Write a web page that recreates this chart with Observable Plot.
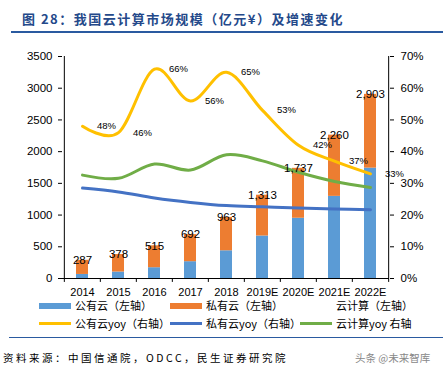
<!DOCTYPE html>
<html><head><meta charset="utf-8">
<script src="https://cdn.jsdelivr.net/npm/d3@7"></script>
<script src="https://cdn.jsdelivr.net/npm/@observablehq/plot@0.6"></script>
<style>
body{margin:0;width:448px;height:375px;position:relative;background:#fff;font-family:"Noto Sans CJK SC",sans-serif;overflow:hidden}
.abs{position:absolute;white-space:nowrap}
#title{left:22px;top:11px;font-size:13px;line-height:16px;font-weight:bold;color:#24498a;letter-spacing:1.5px}
#rule1{left:11px;top:31px;width:432px;height:2px;background:#2a5aa0}
#chart{left:0;top:40px;width:448px;height:260px}
#chart svg{position:absolute;left:0;top:0;overflow:visible}
.lg{font-size:11px;line-height:12px;color:#000}
.sw{position:absolute}
#rule2{left:9px;top:337px;width:434px;height:1px;background:#2a5aa0}
#src{left:3px;top:351px;font-size:10.5px;line-height:14px;letter-spacing:2.5px;color:#000}
#wm{left:355px;top:351px;font-size:10.5px;line-height:14px;color:#888}
</style></head>
<body>
<div id="title" class="abs">图 28：我国云计算市场规模（亿元¥）及增速变化</div>
<div id="rule1" class="abs"></div>
<div id="chart" class="abs"></div>
<div id="legend"></div>
<div id="rule2" class="abs"></div>
<div id="src" class="abs">资料来源：中国信通院，ODCC，民生证券研究院</div>
<div id="wm" class="abs">头条 @未来智库</div>
<script>
const years = ["2014","2015","2016","2017","2018","2019E","2020E","2021E","2022E"];
const publicCloud = [64,102,170,265,437,670,950,1295,1740];
const privateCloud = [223,276,345,427,526,643,787,965,1163];
const totalCloud = [287,378,515,692,963,1313,1737,2260,2903];
const publicYoy = [48,46,66,56,65,53,42,37,33];
const privateYoy = [28.5,27.3,25.4,24,23,22.6,22.2,21.9,21.7];
const totalYoy = [32.6,31.6,36.1,34.2,39,37.1,33.5,30.6,28.7];
const leftTicks = [0,500,1000,1500,2000,2500,3000,3500];
const rightTicks = [0,10,20,30,40,50,60,70];
const seriesNames = ["公有云","私有云"];
const lineNames = ["公有云yoy","私有云yoy","云计算yoy"];
const barColors = ["#5B9BD5","#ED7D31"];
const lineColors = ["#FFC000","#4472C4","#70AD47"];

const W=448,H=260,mL=62,mR=59,mT=16,mB=22;
const half = (W-mL-mR)/years.length/2;
const font = "'Liberation Sans', Arial, sans-serif";

const barRows = [];
years.forEach((y,i)=>{
  barRows.push({year:y, series:seriesNames[0], value:publicCloud[i]});
  barRows.push({year:y, series:seriesNames[1], value:privateCloud[i]});
});
const lineRows = [];
[publicYoy,privateYoy,totalYoy].forEach((arr,k)=>{
  years.forEach((y,i)=>lineRows.push({year:y, series:lineNames[k], value:arr[i]}));
});
const pubRows = years.map((y,i)=>({year:y, value:publicYoy[i]}));
const totRows = years.map((y,i)=>({year:y, value:totalCloud[i]}));
const curve = d3.curveCatmullRom.alpha(0);

const bars = Plot.plot({
  width:W, height:H, marginLeft:mL, marginRight:mR, marginTop:mT, marginBottom:mB,
  style:{fontFamily:font, fontSize:"11.5px", color:"#000", background:"transparent", overflow:"visible"},
  x:{type:"band", domain:years, padding:0, tickSize:0, tickPadding:10, label:null, fontSize:11},
  y:{domain:[0,3500], ticks:leftTicks, tickSize:4, tickPadding:6, label:null, tickFormat:d=>String(d)},
  color:{domain:seriesNames, range:barColors},
  marks:[
    Plot.barY(barRows,{x:"year", y:"value", fill:"series", insetLeft:12, insetRight:12}),
    Plot.ruleY([0],{stroke:"#000"}),
    Plot.ruleX([years[0]],{x:d=>d, dx:-half, y1:0, y2:3500, stroke:"#000"}),
    Plot.ruleX([years[years.length-1]],{x:d=>d, dx:half, y1:0, y2:3500, stroke:"#000"}),
    Plot.ruleX(years,{x:d=>d, dx:-half, y1:0, y2:-62, stroke:"#000"}),
    Plot.ruleX([years[years.length-1]],{x:d=>d, dx:half, y1:0, y2:-62, stroke:"#000"})
  ]
});
bars.querySelectorAll('[aria-label="x-axis tick label"] text, g[aria-label="x-axis tick label"] text').forEach(t=>t.style.fontSize="11px");

const lines = Plot.plot({
  width:W, height:H, marginLeft:mL, marginRight:mR, marginTop:mT, marginBottom:mB,
  style:{fontFamily:font, fontSize:"11.5px", color:"#000", background:"transparent", overflow:"visible"},
  x:{type:"band", domain:years, padding:0, axis:null},
  y:{domain:[0,70], axis:"right", ticks:rightTicks, tickSize:4, tickPadding:7, label:null, tickFormat:d=>d+"%"},
  color:{domain:lineNames, range:lineColors},
  marks:[
    Plot.line(lineRows,{x:"year", y:"value", stroke:"series", z:"series", strokeWidth:3, curve}),
    Plot.text(pubRows,{x:"year", y:"value", text:d=>Math.round(d.value)+"%", dx:24, fontSize:9.5, fill:"#000"})
  ]
});

const labels = Plot.plot({
  width:W, height:H, marginLeft:mL, marginRight:mR, marginTop:mT, marginBottom:mB,
  style:{fontFamily:font, fontSize:"11.5px", color:"#000", background:"transparent", overflow:"visible"},
  x:{type:"band", domain:years, padding:0, axis:null},
  y:{domain:[0,3500], axis:null},
  marks:[
    Plot.text(totRows,{x:"year", y:"value", text:d=>d3.format(",")(d.value), fontSize:11.5, fill:"#000"})
  ]
});
const chart = document.getElementById("chart");
chart.appendChild(bars); chart.appendChild(lines); chart.appendChild(labels);

// legend
const lg = document.getElementById("legend");
const items = [
  {x:39, y:305.7, kind:"rect", color:barColors[0], label:"公有云（左轴）"},
  {x:170, y:305.7, kind:"rect", color:barColors[1], label:"私有云（左轴）"},
  {x:300, y:305.7, kind:"none", color:"#fff", label:"云计算（左轴）"},
  {x:39, y:323.3, kind:"line", color:lineColors[0], label:"公有云yoy（右轴）"},
  {x:170, y:323.3, kind:"line", color:lineColors[1], label:"私有云yoy（右轴）"},
  {x:300, y:323.3, kind:"line", color:lineColors[2], label:"云计算yoy 右轴"}
];
items.forEach(it=>{
  const s = document.createElement("div");
  s.className="sw";
  const h = it.kind==="rect"?6:3;
  s.style.left=it.x+"px"; s.style.width="32px"; s.style.height=h+"px";
  s.style.top=(it.y-h/2)+"px";
  s.style.background = it.kind==="none" ? "transparent" : it.color;
  lg.appendChild(s);
  const t = document.createElement("div");
  t.className="abs lg";
  t.textContent = it.label;
  t.style.left=(it.x+36)+"px"; t.style.top=(it.y-6.5)+"px";
  lg.appendChild(t);
});
</script>
</body></html>
